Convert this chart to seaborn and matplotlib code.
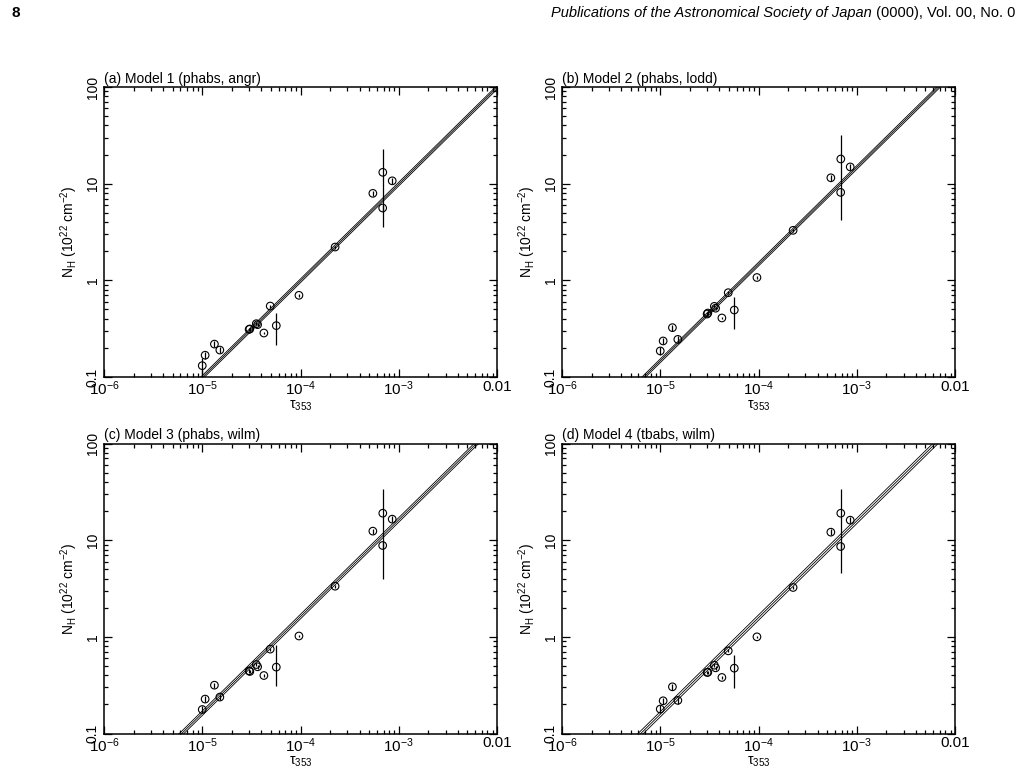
import numpy as np
import matplotlib
matplotlib.use("Agg")
import matplotlib.pyplot as plt
import seaborn as sns
from matplotlib.ticker import LogLocator, FixedLocator, FixedFormatter, NullFormatter

# ---------------- data ----------------
tau = [1.0e-5, 1.07e-5, 1.33e-5, 1.51e-5, 3.0e-5, 3.05e-5, 3.55e-5, 3.66e-5,
       4.24e-5, 4.92e-5, 5.67e-5, 9.64e-5, 2.25e-4, 5.45e-4, 6.88e-4, 6.86e-4, 8.58e-4]

nh_a = [0.131, 0.168, 0.219, 0.190, 0.311, 0.314, 0.356, 0.348, 0.285, 0.542,
        0.34, 0.70, 2.21, 7.94, 13.1, 5.6, 10.7]
nh_b = [0.186, 0.236, 0.324, 0.245, 0.448, 0.459, 0.538, 0.515, 0.408, 0.745,
        0.493, 1.07, 3.29, 11.5, 18.0, 8.13, 14.9]
nh_c = [0.177, 0.227, 0.316, 0.238, 0.445, 0.438, 0.517, 0.49, 0.398, 0.746,
        0.486, 1.02, 3.34, 12.4, 19.0, 8.81, 16.5]
nh_d = [0.179, 0.218, 0.304, 0.22, 0.428, 0.43, 0.509, 0.478, 0.38, 0.716,
        0.474, 1.0, 3.24, 12.1, 19.0, 8.6, 16.1]

err_lo_a = [0.026, 0.013, 0.015, 0.013, 0.012, 0.012, 0.014, 0.014, 0.008, 0.02,
            0.126, 0.02, 0.08, 0.55, 9.5, 0.45, 0.75]
err_hi_a = [0.026, 0.013, 0.015, 0.013, 0.012, 0.012, 0.014, 0.014, 0.008, 0.02,
            0.123, 0.02, 0.08, 0.55, 9.7, 0.45, 0.75]
err_lo_b = [0.019, 0.018, 0.022, 0.018, 0.018, 0.018, 0.02, 0.02, 0.012, 0.025,
            0.179, 0.03, 0.12, 0.8, 13.8, 0.65, 1.0]
err_hi_b = [0.019, 0.018, 0.022, 0.018, 0.018, 0.018, 0.02, 0.02, 0.012, 0.025,
            0.179, 0.03, 0.12, 0.8, 13.6, 0.65, 1.0]
err_lo_c = [0.015, 0.017, 0.02, 0.017, 0.018, 0.018, 0.02, 0.02, 0.012, 0.025,
            0.175, 0.03, 0.12, 0.8, 15.05, 0.7, 1.1]
err_hi_c = [0.015, 0.017, 0.02, 0.017, 0.018, 0.018, 0.02, 0.02, 0.012, 0.025,
            0.334, 0.03, 0.12, 0.8, 15.2, 0.7, 1.1]
err_lo_d = [0.016, 0.016, 0.02, 0.017, 0.018, 0.018, 0.02, 0.02, 0.012, 0.025,
            0.177, 0.03, 0.12, 0.8, 14.4, 0.7, 1.1]
err_hi_d = [0.016, 0.016, 0.02, 0.017, 0.018, 0.018, 0.02, 0.02, 0.012, 0.025,
            0.176, 0.03, 0.12, 0.8, 14.7, 0.7, 1.1]

# fitted proportionality N_H = k * tau (central, and +/- bound factor)
fit_k = [0.99e4, 1.47e4, 1.62e4, 1.58e4]
fit_spread = [1.045, 1.045, 1.055, 1.065]

titles = ["(a) Model 1 (phabs, angr)", "(b) Model 2 (phabs, lodd)",
          "(c) Model 3 (phabs, wilm)", "(d) Model 4 (tbabs, wilm)"]

x_ticks = [1e-6, 1e-5, 1e-4, 1e-3, 1e-2]
x_ticklabels = [r"10$^{\mathregular{-6}}$", r"10$^{\mathregular{-5}}$",
                r"10$^{\mathregular{-4}}$", r"10$^{\mathregular{-3}}$", "0.01"]
y_ticks = [0.1, 1, 10, 100]
y_ticklabels = ["0.1", "1", "10", "100"]

# ---------------- style ----------------
sns.set_theme(style="ticks")
plt.rcParams["font.family"] = ["Liberation Sans", "DejaVu Sans"]
plt.rcParams["mathtext.fontset"] = "custom"
plt.rcParams["mathtext.rm"] = "Liberation Sans"
plt.rcParams["mathtext.it"] = "Liberation Sans:italic"
plt.rcParams["mathtext.bf"] = "Liberation Sans:bold"

fig = plt.figure(figsize=(10.22, 7.82), dpi=100)

W, H = 1022.0, 782.0
ax_w, ax_h = 393.0, 290.0
positions = [(104, 87), (562, 87), (104, 443.5), (562, 443.5)]  # left, top in px

nh_all = [nh_a, nh_b, nh_c, nh_d]
lo_all = [err_lo_a, err_lo_b, err_lo_c, err_lo_d]
hi_all = [err_hi_a, err_hi_b, err_hi_c, err_hi_d]

for i in range(4):
    left, top = positions[i]
    ax = fig.add_axes([left / W, (H - top - ax_h) / H, ax_w / W, ax_h / H])
    ax.set_xscale("log")
    ax.set_yscale("log")
    ax.set_xlim(1e-6, 1e-2)
    ax.set_ylim(0.1, 100)

    # fit lines
    xx = np.array([1e-6, 1e-2])
    for f in [1.0 / fit_spread[i], 1.0, fit_spread[i]]:
        sns.lineplot(x=xx, y=fit_k[i] * f * xx, ax=ax, color="black",
                     linewidth=0.6, sort=False, estimator=None)

    # error bars
    ax.errorbar(tau, nh_all[i], yerr=[lo_all[i], hi_all[i]], fmt="none",
                ecolor="black", elinewidth=0.9, capsize=0)
    # open circles
    sns.scatterplot(x=tau, y=nh_all[i], ax=ax, marker="o", s=30,
                    facecolor="none", edgecolor="black", linewidth=0.8,
                    zorder=5)

    for sp in ax.spines.values():
        sp.set_linewidth(1.1)
        sp.set_color("black")

    ax.xaxis.set_major_locator(FixedLocator(x_ticks))
    ax.xaxis.set_major_formatter(FixedFormatter(x_ticklabels))
    ax.xaxis.set_minor_locator(LogLocator(base=10, subs=np.arange(2, 10), numticks=20))
    ax.xaxis.set_minor_formatter(NullFormatter())
    ax.yaxis.set_major_locator(FixedLocator(y_ticks))
    ax.yaxis.set_major_formatter(FixedFormatter(y_ticklabels))
    ax.yaxis.set_minor_locator(LogLocator(base=10, subs=np.arange(2, 10), numticks=20))
    ax.yaxis.set_minor_formatter(NullFormatter())

    ax.tick_params(which="both", direction="in", top=True, right=True,
                   color="black", width=0.9)
    ax.tick_params(which="major", length=5.5)
    ax.tick_params(which="minor", length=3.2)
    ax.tick_params(axis="x", which="major", labelsize=11, pad=2, labelcolor="black")
    ax.tick_params(axis="y", which="major", labelsize=10, pad=3, labelcolor="black")
    for lab in ax.get_yticklabels():
        lab.set_rotation(90)
        lab.set_va("center")
        lab.set_ha("right")

    ax.set_xlabel("τ$_{\\mathregular{353}}$", fontsize=10, color="black", labelpad=0)
    ax.set_ylabel("N$_{\\mathregular{H}}$ (10$^{\\mathregular{22}}$ cm$^{\\mathregular{-2}}$)",
                  fontsize=10, color="black", labelpad=4)
    ax.set_title(titles[i], loc="left", fontsize=10, color="black", pad=3)
    ax.grid(False)

# header
fig.text(12 / W, 1 - 13 / H, "8", fontsize=11, fontweight="bold", ha="left",
         va="center", color="black")
t2 = fig.text(1015 / W, 1 - 13 / H, " (0000), Vol. 00, No. 0", fontsize=10.5,
              ha="right", va="center", color="black")
fig.canvas.draw()
r = fig.canvas.get_renderer()
bb = t2.get_window_extent(renderer=r)
fig.text(bb.x0 / W, 1 - 13 / H, "Publications of the Astronomical Society of Japan",
         fontsize=10.5, style="italic", ha="right", va="center", color="black")

fig.savefig("out.png", dpi=100, facecolor="white")
